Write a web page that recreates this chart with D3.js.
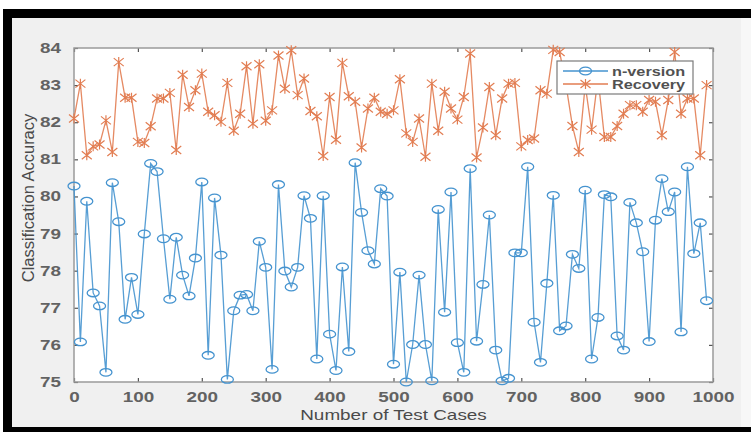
<!DOCTYPE html>
<html>
<head>
<meta charset="utf-8">
<script src="https://cdn.jsdelivr.net/npm/d3@7/dist/d3.min.js"></script>
<style>
  body { margin: 0; background: #fff; }
  text { font-family: "Liberation Sans", Arial, sans-serif; }
</style>
</head>
<body>
<svg id="chart"></svg>
<script>
// test case counts on the x axis
const testCases = [
  0, 10, 20, 30, 40, 50, 60, 70, 80, 90,
  100, 110, 120, 130, 140, 150, 160, 170, 180, 190,
  200, 210, 220, 230, 240, 250, 260, 270, 280, 290,
  300, 310, 320, 330, 340, 350, 360, 370, 380, 390,
  400, 410, 420, 430, 440, 450, 460, 470, 480, 490,
  500, 510, 520, 530, 540, 550, 560, 570, 580, 590,
  600, 610, 620, 630, 640, 650, 660, 670, 680, 690,
  700, 710, 720, 730, 740, 750, 760, 770, 780, 790,
  800, 810, 820, 830, 840, 850, 860, 870, 880, 890,
  900, 910, 920, 930, 940, 950, 960, 970, 980, 990
];

const nVersion = [
  80.28, 76.08, 79.87, 77.40, 77.05, 75.26, 80.37, 79.32, 76.69, 77.82,
  76.82, 78.99, 80.89, 80.67, 78.86, 77.23, 78.90, 77.88, 77.32, 78.34,
  80.39, 75.72, 79.96, 78.42, 75.07, 76.92, 77.34, 77.36, 76.92, 78.79,
  78.09, 75.34, 80.32, 77.99, 77.56, 78.09, 80.02, 79.41, 75.62, 80.02,
  76.29, 75.31, 78.10, 75.82, 80.91, 79.57, 78.54, 78.18, 80.21, 80.01,
  75.48, 77.96, 75.00, 76.01, 77.88, 76.01, 75.03, 79.65, 76.88, 80.12,
  76.06, 75.26, 80.75, 76.10, 77.63, 79.50, 75.86, 75.03, 75.10, 78.48,
  78.48, 80.80, 76.61, 75.53, 77.66, 80.03, 76.38, 76.51, 78.44, 78.06,
  80.17, 75.62, 76.74, 80.05, 79.99, 76.24, 75.86, 79.84, 79.29, 78.51,
  76.09, 79.36, 80.48, 79.59, 80.12, 76.35, 80.80, 78.46, 79.29, 77.19
];

const recovery = [
  82.10, 83.04, 81.11, 81.35, 81.40, 82.05, 81.20, 83.62, 82.66, 82.66,
  81.47, 81.44, 81.89, 82.64, 82.64, 82.79, 81.25, 83.28, 82.41, 82.86,
  83.31, 82.28, 82.19, 82.01, 83.06, 81.77, 82.23, 83.51, 81.96, 83.56,
  82.04, 82.32, 83.80, 82.90, 83.94, 82.73, 83.18, 82.30, 82.16, 81.09,
  82.68, 81.53, 83.60, 82.70, 82.55, 81.32, 82.37, 82.66, 82.28, 82.23,
  82.32, 83.16, 81.70, 81.47, 82.10, 81.07, 83.04, 81.77, 82.82, 82.37,
  82.07, 82.68, 83.85, 81.05, 81.86, 82.95, 81.65, 82.64, 83.04, 83.06,
  81.35, 81.52, 81.56, 82.86, 82.77, 83.95, 83.89, 83.00, 81.90, 81.20,
  83.00, 81.80, 83.20, 81.60, 81.60, 81.90, 82.23, 82.46, 82.46, 82.28,
  82.60, 82.55, 81.65, 82.60, 83.89, 82.23, 82.64, 82.64, 81.11, 83.00
];

const xTicks = [0, 100, 200, 300, 400, 500, 600, 700, 800, 900, 1000];
const yTicks = [75, 76, 77, 78, 79, 80, 81, 82, 83, 84];
const seriesNames = ["n-version", "Recovery"];

const width = 751;
const height = 432;
const blue = "#4593cf";
const orange = "#e27d52";
const textColor = "#4a4a4a";
const sx = 1.35; // the picture is stretched sideways

const margin = { left: 74, right: 38, top: 48, bottom: 50 };
const plotW = width - margin.left - margin.right;
const plotH = height - margin.top - margin.bottom;

const svg = d3.select("#chart").attr("width", width).attr("height", height);

// black frame and grey figure panel
svg.append("rect").attr("x", 3).attr("y", 9).attr("width", 748).attr("height", 423).attr("fill", "#000");
svg.append("rect").attr("x", 12).attr("y", 18).attr("width", 729).attr("height", 409).attr("fill", "#f0f0f0");
svg.append("rect").attr("x", 741).attr("y", 18).attr("width", 10).attr("height", 409).attr("fill", "#f7f7f7");

const xScale = d3.scaleLinear().domain([0, 1000]).range([0, plotW]);
const yScale = d3.scaleLinear().domain([75, 84]).range([plotH, 0]);

const g = svg.append("g").attr("transform", `translate(${margin.left},${margin.top})`);

g.append("rect")
  .attr("width", plotW)
  .attr("height", plotH)
  .attr("fill", "#fff");

// axes, ticks pointing inward like matlab
const styleAxis = (sel) => {
  sel.select(".domain").remove();
  sel.selectAll(".tick line").attr("stroke", "#555").attr("stroke-width", 1.2);
  sel.selectAll(".tick text")
    .attr("fill", textColor)
    .attr("font-size", 14)
    .attr("font-weight", "bold")
    .style("opacity", 0.85);
};

const xAxis = g.append("g")
  .attr("transform", `translate(0,${plotH})`)
  .call(d3.axisBottom(xScale).tickValues(xTicks).tickFormat(d3.format("d")).tickSize(-4).tickPadding(10))
  .call(styleAxis);
xAxis.selectAll(".tick text")
  .attr("transform", function () {
    const y = d3.select(this).attr("y");
    return `translate(0,${y}) scale(${sx},1) translate(0,${-y})`;
  });

g.append("g")
  .call(d3.axisTop(xScale).tickValues(xTicks).tickSize(-4).tickFormat(""))
  .call(styleAxis);

const yAxis = g.append("g")
  .call(d3.axisLeft(yScale).tickValues(yTicks).tickSize(-4).tickPadding(13))
  .call(styleAxis);
yAxis.selectAll(".tick text")
  .attr("transform", function () {
    const x = d3.select(this).attr("x");
    return `translate(${x},0) scale(${sx},1) translate(${-x},0)`;
  });

g.append("g")
  .attr("transform", `translate(${plotW},0)`)
  .call(d3.axisRight(yScale).tickValues(yTicks).tickSize(-4).tickFormat(""))
  .call(styleAxis);

// plot box
g.append("rect")
  .attr("width", plotW)
  .attr("height", plotH)
  .attr("fill", "none")
  .attr("stroke", "#9a9a9a")
  .attr("stroke-width", 1.5);

// axis titles
svg.append("text")
  .attr("transform", `translate(${margin.left + plotW / 2},420) scale(${sx},1)`)
  .attr("text-anchor", "middle")
  .attr("font-size", 14)
  .attr("fill", textColor)
  .text("Number of Test Cases");

svg.append("text")
  .attr("transform", `translate(34,198) rotate(-90) scale(1.1,1.15)`)
  .attr("text-anchor", "middle")
  .attr("font-size", 15)
  .attr("fill", textColor)
  .text("Classification Accuracy");

// lines
const line = (values) => d3.line()
  .x((d, i) => xScale(testCases[i]))
  .y((d) => yScale(d))(values);

g.append("path")
  .attr("d", line(recovery))
  .attr("fill", "none")
  .attr("stroke", orange)
  .attr("stroke-width", 1.3)
  .attr("opacity", 0.9);

g.append("path")
  .attr("d", line(nVersion))
  .attr("fill", "none")
  .attr("stroke", blue)
  .attr("stroke-width", 1.3)
  .attr("opacity", 0.9);

// markers
const drawStar = (sel, color) => {
  sel.append("path")
    .attr("d", "M-5,-4L5,4M-5,4L5,-4M0,-5L0,5")
    .attr("stroke", color)
    .attr("stroke-width", 1.2)
    .attr("fill", "none");
};

g.selectAll(".rec")
  .data(recovery)
  .enter()
  .append("g")
  .attr("class", "rec")
  .attr("transform", (d, i) => `translate(${xScale(testCases[i])},${yScale(d)})`)
  .call(drawStar, orange);

g.selectAll(".nv")
  .data(nVersion)
  .enter()
  .append("ellipse")
  .attr("class", "nv")
  .attr("cx", (d, i) => xScale(testCases[i]))
  .attr("cy", (d) => yScale(d))
  .attr("rx", 6)
  .attr("ry", 3.8)
  .attr("fill", "none")
  .attr("stroke", blue)
  .attr("stroke-width", 1.3);

// legend
const legend = svg.append("g").attr("transform", "translate(557,61)");
legend.append("rect")
  .attr("width", 136)
  .attr("height", 33)
  .attr("fill", "#fff")
  .attr("stroke", "#7a7a7a")
  .attr("stroke-width", 1.2);

const legendColors = [blue, orange];
seriesNames.forEach((name, i) => {
  const row = legend.append("g").attr("transform", `translate(0,${10 + i * 13})`);
  row.append("line")
    .attr("x1", 6).attr("x2", 51)
    .attr("stroke", legendColors[i])
    .attr("stroke-width", 1.3);
  if (i === 0) {
    row.append("ellipse")
      .attr("cx", 28.5).attr("rx", 6).attr("ry", 3.8)
      .attr("fill", "none").attr("stroke", blue).attr("stroke-width", 1.3);
  } else {
    row.append("g").attr("transform", "translate(28.5,0)").call(drawStar, orange);
  }
  row.append("text")
    .attr("transform", `translate(55,0) scale(1.25,1)`)
    .attr("dy", "0.35em")
    .attr("font-size", 13)
    .attr("font-weight", "bold")
    .attr("fill", "#333")
    .style("opacity", 0.85)
    .text(name);
});
</script>
</body>
</html>
